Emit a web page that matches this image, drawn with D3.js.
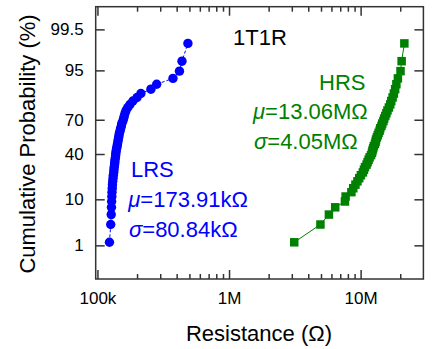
<!DOCTYPE html>
<html>
<head>
<meta charset="utf-8">
<script src="https://cdn.jsdelivr.net/npm/d3@7"></script>
<style>
  html, body { margin: 0; padding: 0; background: #fff; }
  svg { display: block; font-family: "Liberation Sans", Arial, sans-serif; }
</style>
</head>
<body>
<svg id="chart" width="432" height="349"></svg>
<script>
// ---------------- data ----------------
const cumulativeProb = [1.20,3.19,5.18,7.17,9.16,11.16,13.15,15.14,17.13,19.12,
  21.12,23.11,25.10,27.09,29.08,31.08,33.07,35.06,37.05,39.04,
  41.04,43.03,45.02,47.01,49.00,51.00,52.99,54.98,56.97,58.96,
  60.96,62.95,64.94,66.93,68.92,70.92,72.91,74.90,76.89,78.88,
  80.88,82.87,84.86,86.85,88.84,90.84,92.83,94.82,96.81,98.80];
// LRS resistance (kOhm)
const lrsResistance = [123.4,126.2,127.3,127.8,128.2,128.7,129,129.6,130,130.7,
  131.4,132,133,133.5,134,135,135.5,136,137,137.7,
  138,139,140,141,142,143,144,145,146,147,
  149,150,152,153,156,158,160,162,165,170,
  177,186,200,214,255,282,375,420,439,487];
// HRS resistance (MOhm)
const hrsResistance = [3.13,4.95,5.74,6.41,7.60,7.69,8.51,8.79,9.13,9.46,
  9.76,10.05,10.4,10.6,10.8,11.1,11.3,11.5,11.7,12.0,
  12.2,12.3,12.45,12.6,12.85,13.0,13.1,13.3,13.5,13.7,
  13.95,14.1,14.4,14.6,14.9,15.1,15.4,15.7,16.0,16.4,
  16.8,17.1,17.5,17.9,18.3,18.7,19.2,20.1,20.5,21.5];
const xMajorTicks = [1e5, 1e6, 1e7];
const xMajorLabels = ["100k", "1M", "10M"];
const xMinorTicks = [2e5,3e5,4e5,5e5,6e5,7e5,8e5,9e5,2e6,3e6,4e6,5e6,6e6,7e6,8e6,9e6,2e7];
const yTicks = [1, 10, 40, 70, 95, 99.5];
const yTickLabels = ["1", "10", "40", "70", "95", "99.5"];

// ---------------- helpers ----------------
function probit(p) {
  const a=[-3.969683028665376e+01,2.209460984245205e+02,-2.759285104469687e+02,1.383577518672690e+02,-3.066479806614716e+01,2.506628277459239e+00];
  const b=[-5.447609879822406e+01,1.615858368580409e+02,-1.556989798598866e+02,6.680131188771972e+01,-1.328068155288572e+01];
  const c=[-7.784894002430293e-03,-3.223964580411365e-01,-2.400758277161838e+00,-2.549671010115819e+00,4.374664141464968e+00,2.938163982698783e+00];
  const d=[7.784695709041462e-03,3.224671290700398e-01,2.445134137142996e+00,3.754408661907416e+00];
  const pl = 0.02425, ph = 1 - pl;
  let q, r;
  if (p < pl) {
    q = Math.sqrt(-2 * Math.log(p));
    return (((((c[0]*q+c[1])*q+c[2])*q+c[3])*q+c[4])*q+c[5])/((((d[0]*q+d[1])*q+d[2])*q+d[3])*q+1);
  }
  if (p <= ph) {
    q = p - 0.5; r = q*q;
    return (((((a[0]*r+a[1])*r+a[2])*r+a[3])*r+a[4])*r+a[5])*q/(((((b[0]*r+b[1])*r+b[2])*r+b[3])*r+b[4])*r+1);
  }
  q = Math.sqrt(-2 * Math.log(1 - p));
  return -(((((c[0]*q+c[1])*q+c[2])*q+c[3])*q+c[4])*q+c[5])/((((d[0]*q+d[1])*q+d[2])*q+d[3])*q+1);
}

// ---------------- layout ----------------
const L = 95.7, R = 423.4, T = 6.7, B = 279;
const axisColor = "#333";
const blue = "#0000ff", green = "#008000";

const svg = d3.select("#chart");

const x = d3.scaleLog().domain([9.7e4, 3e7]).range([L, R]);
const yz = d3.scaleLinear().domain([probit(0.001), probit(0.999)]).range([B, T]);
const y = p => yz(probit(p / 100));

const lrs = lrsResistance.map((v, i) => ({ r: v * 1e3, p: cumulativeProb[i] }));
const hrs = hrsResistance.map((v, i) => ({ r: v * 1e6, p: cumulativeProb[i] }));

// ---------------- axes ----------------
function styleAxis(g) {
  g.select(".domain").remove();
  g.selectAll(".tick line").attr("stroke", axisColor).attr("stroke-width", 1.5);
  g.selectAll(".tick text").attr("fill", "#000").style("font-size", "17px")
    .style("font-family", '"Liberation Sans", Arial, sans-serif');
}

// bottom major
svg.append("g").attr("transform", `translate(0,${B})`)
  .call(d3.axisBottom(x).tickValues(xMajorTicks).tickSize(-9).tickPadding(13)
    .tickFormat((d, i) => xMajorLabels[i]))
  .call(styleAxis);
// bottom minor
svg.append("g").attr("transform", `translate(0,${B})`)
  .call(d3.axisBottom(x).tickValues(xMinorTicks).tickSize(-5).tickFormat(""))
  .call(styleAxis);
// top major / minor
svg.append("g").attr("transform", `translate(0,${T})`)
  .call(d3.axisTop(x).tickValues(xMajorTicks).tickSize(-9).tickFormat(""))
  .call(styleAxis);
svg.append("g").attr("transform", `translate(0,${T})`)
  .call(d3.axisTop(x).tickValues(xMinorTicks).tickSize(-5).tickFormat(""))
  .call(styleAxis);
// left
svg.append("g").attr("transform", `translate(${L},0)`)
  .call(d3.axisLeft(yz).tickValues(yTicks.map(p => probit(p / 100))).tickSize(-9).tickPadding(12)
    .tickFormat((d, i) => yTickLabels[i]))
  .call(styleAxis);
// right
svg.append("g").attr("transform", `translate(${R},0)`)
  .call(d3.axisRight(yz).tickValues(yTicks.map(p => probit(p / 100))).tickSize(-9).tickFormat(""))
  .call(styleAxis);

// frame
svg.append("rect").attr("x", L).attr("y", T).attr("width", R - L).attr("height", B - T)
  .attr("fill", "none").attr("stroke", axisColor).attr("stroke-width", 1.5);

// ---------------- series ----------------
const line = d3.line().x(d => x(d.r)).y(d => y(d.p));

svg.append("path").datum(lrs).attr("d", line)
  .attr("fill", "none").attr("stroke", blue).attr("stroke-width", 1).attr("stroke-dasharray", "3,2");
svg.append("g").selectAll("circle").data(lrs).join("circle")
  .attr("cx", d => x(d.r)).attr("cy", d => y(d.p)).attr("r", 4.7).attr("fill", blue);

svg.append("path").datum(hrs).attr("d", line)
  .attr("fill", "none").attr("stroke", green).attr("stroke-width", 1);
const sq = 8.5;
svg.append("g").selectAll("rect").data(hrs).join("rect")
  .attr("x", d => x(d.r) - sq / 2).attr("y", d => y(d.p) - sq / 2)
  .attr("width", sq).attr("height", sq).attr("fill", green);

// ---------------- texts ----------------
const fs = "22px";
svg.append("text").attr("x", 233).attr("y", 45).style("font-size", fs).attr("fill", "#000").text("1T1R");

function label(xp, yp, color, parts) {
  const t = svg.append("text").attr("x", xp).attr("y", yp).style("font-size", fs).attr("fill", color);
  parts.forEach(([s, it]) => t.append("tspan").style("font-style", it ? "italic" : "normal").text(s));
}
label(131, 176.7, blue, [["LRS", false]]);
label(128.3, 206.7, blue, [["μ", true], ["=173.91kΩ", false]]);
label(129, 236.7, blue, [["σ", true], ["=80.84kΩ", false]]);
label(319, 90, green, [["HRS", false]]);
label(253, 119.3, green, [["μ", true], ["=13.06MΩ", false]]);
label(254, 149, green, [["σ", true], ["=4.05MΩ", false]]);

// axis titles
svg.append("text").attr("x", 259).attr("y", 340.7).attr("text-anchor", "middle")
  .style("font-size", fs).attr("fill", "#000").text("Resistance (Ω)");
svg.append("text").attr("transform", `translate(35,144) rotate(-90)`).attr("text-anchor", "middle")
  .style("font-size", fs).attr("fill", "#000").text("Cumulative Probability (%)");
</script>
</body>
</html>
